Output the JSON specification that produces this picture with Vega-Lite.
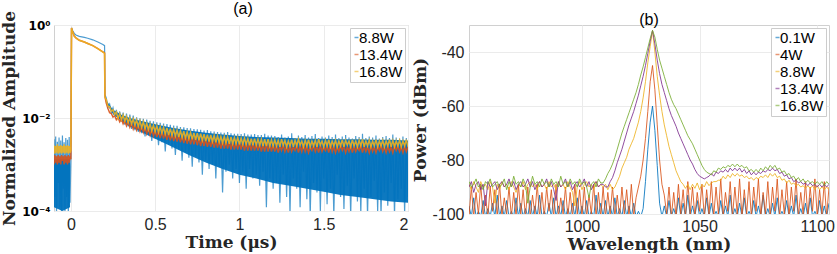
{
"$schema":"https://vega.github.io/schema/vega-lite/v6.json",
"background":"white",
"padding":{"left":0,"top":0,"right":0,"bottom":0},
"spacing":2,
"config":{
 "view":{"stroke":"#d0d0d0","strokeWidth":1},
 "axis":{"grid":true,"gridColor":"#ebebeb","domain":false,"ticks":false,"labelFont":"Liberation Sans","labelFontSize":16,"labelColor":"#262626","titleFont":"DejaVu Serif","titleFontSize":17,"titleFontWeight":"bold","titleColor":"#262626"},
 "title":{"font":"Liberation Sans","fontSize":16,"fontWeight":"normal","color":"#000"},
 "legend":{"title":null,"orient":"top-right","offset":3,"symbolType":"stroke","symbolSize":16,"symbolStrokeWidth":1.5,"symbolOpacity":0.6,"symbolOffset":-3,"labelFontSize":15,"labelFont":"Liberation Sans","labelColor":"#000","strokeColor":"#cccccc","fillColor":"white","padding":2,"rowPadding":1,"labelOffset":-5}
},
"resolve":{"scale":{"color":"independent"},"legend":{"color":"independent"}},
"hconcat":[
{
 "width":354,"height":186,
 "title":{"text":"(a)","offset":-6,"dx":12},
 "data":{"values":[
{"t":-0.1,"a":0.0035,"b":0.0010,"c":0.0026,"u":0.0013,"l":0.00012,"g":1},
{"t":-0.095,"a":0.0002,"b":0.0016,"c":0.0017},
{"t":-0.09,"a":0.0040,"b":0.0011,"c":0.0025},
{"t":-0.085,"a":0.00008,"b":0.0015,"c":0.0018},
{"t":-0.08,"a":0.0031,"b":0.0010,"c":0.0027},
{"t":-0.075,"a":0.0004,"b":0.0016,"c":0.0017},
{"t":-0.07,"a":0.0038,"b":0.0011,"c":0.0025},
{"t":-0.065,"a":0.00012,"b":0.0015,"c":0.0018},
{"t":-0.06,"a":0.0033,"b":0.0010,"c":0.0026},
{"t":-0.055,"a":0.00008,"b":0.0016,"c":0.0017},
{"t":-0.05,"a":0.0042,"b":0.0012,"c":0.0025,"u":0.0013,"l":0.0001,"g":1},
{"t":-0.045,"a":0.0003,"b":0.0015,"c":0.0018},
{"t":-0.04,"a":0.0030,"b":0.0010,"c":0.0027},
{"t":-0.035,"a":0.00009,"b":0.0016,"c":0.0017},
{"t":-0.03,"a":0.0037,"b":0.0011,"c":0.0025},
{"t":-0.025,"a":0.0002,"b":0.0015,"c":0.0018},
{"t":-0.02,"a":0.0034,"b":0.0010,"c":0.0026},
{"t":-0.015,"a":0.00008,"b":0.0016,"c":0.0017},
{"t":-0.01,"a":0.0039,"b":0.0011,"c":0.0025},
{"t":-0.005,"a":0.00015,"b":0.0015,"c":0.0018,"u":0.0013,"l":0.00012,"g":1},
{"t":0,"a":0.0012,"b":0.0013,"c":0.002},
{"t":0.004,"a":0.86,"b":0.86,"c":0.86},
{"t":0.01,"a":0.76,"b":0.72,"c":0.72},
{"t":0.02,"a":0.66,"b":0.58,"c":0.58},
{"t":0.03,"a":0.61,"b":0.53,"c":0.53},
{"t":0.05,"a":0.57,"b":0.47,"c":0.47},
{"t":0.08,"a":0.54,"b":0.43,"c":0.43},
{"t":0.1,"a":0.52,"b":0.40,"c":0.40},
{"t":0.13,"a":0.48,"b":0.36,"c":0.36},
{"t":0.16,"a":0.43,"b":0.31,"c":0.31},
{"t":0.19,"a":0.38,"b":0.265,"c":0.26},
{"t":0.2,"a":0.36,"b":0.25,"c":0.245},
{"t":0.202,"a":0.032,"b":0.029,"c":0.028},
{"t":0.21,"a":0.027,"b":0.021,"c":0.025,"u":0.024,"l":0.021,"g":2},
{"t":0.22,"a":0.017,"b":0.016,"c":0.018},
{"t":0.23,"a":0.020,"b":0.013,"c":0.0175},
{"t":0.24,"a":0.013,"b":0.0125,"c":0.014},
{"t":0.25,"a":0.0165,"b":0.0105,"c":0.0150,"u":0.015,"l":0.012,"g":2},
{"t":0.26,"a":0.0108,"b":0.0112,"c":0.0118},
{"t":0.27,"a":0.0150,"b":0.0092,"c":0.0135},
{"t":0.28,"a":0.0094,"b":0.0103,"c":0.0098},
{"t":0.29,"a":0.0138,"b":0.0083,"c":0.0124},
{"t":0.30,"a":0.0083,"b":0.0095,"c":0.0092,"u":0.0118,"l":0.0086,"g":2},
{"t":0.31,"a":0.0131,"b":0.0075,"c":0.0116},
{"t":0.32,"a":0.0072,"b":0.0089,"c":0.0085},
{"t":0.33,"a":0.0125,"b":0.0068,"c":0.0108},
{"t":0.34,"a":0.0066,"b":0.0083,"c":0.0079},
{"t":0.35,"a":0.0119,"b":0.0063,"c":0.0101,"u":0.0100,"l":0.0066,"g":2},
{"t":0.36,"a":0.0058,"b":0.0078,"c":0.0074},
{"t":0.37,"a":0.0113,"b":0.0058,"c":0.0096},
{"t":0.38,"a":0.0055,"b":0.0073,"c":0.0070},
{"t":0.39,"a":0.0104,"b":0.0055,"c":0.0091},
{"t":0.40,"a":0.0050,"b":0.0069,"c":0.0066,"u":0.0089,"l":0.0054,"g":2},
{"t":0.41,"a":0.0099,"b":0.0052,"c":0.0087},
{"t":0.42,"a":0.0047,"b":0.0066,"c":0.0062},
{"t":0.43,"a":0.0096,"b":0.0049,"c":0.0083},
{"t":0.44,"a":0.0040,"b":0.0063,"c":0.0059},
{"t":0.45,"a":0.0092,"b":0.0046,"c":0.0077},
{"t":0.46,"a":0.0042,"b":0.0060,"c":0.0056},
{"t":0.47,"a":0.0087,"b":0.0043,"c":0.0074},
{"t":0.48,"a":0.0032,"b":0.0057,"c":0.0053},
{"t":0.49,"a":0.0085,"b":0.0041,"c":0.0070},
{"t":0.50,"a":0.0036,"b":0.0055,"c":0.0051,"u":0.0073,"l":0.0036,"g":2},
{"t":0.51,"a":0.0081,"b":0.0039,"c":0.0068},
{"t":0.52,"a":0.0026,"b":0.0053,"c":0.0049},
{"t":0.53,"a":0.0079,"b":0.0037,"c":0.0065},
{"t":0.54,"a":0.0030,"b":0.0051,"c":0.0047},
{"t":0.55,"a":0.0076,"b":0.0036,"c":0.0063},
{"t":0.56,"a":0.0019,"b":0.0049,"c":0.0045},
{"t":0.57,"a":0.0074,"b":0.0034,"c":0.0061},
{"t":0.58,"a":0.0027,"b":0.0047,"c":0.0043},
{"t":0.59,"a":0.0071,"b":0.0033,"c":0.0059},
{"t":0.60,"a":0.0022,"b":0.0046,"c":0.0042,"u":0.0062,"l":0.0024,"g":2},
{"t":0.61,"a":0.0069,"b":0.0032,"c":0.0057},
{"t":0.62,"a":0.0016,"b":0.0044,"c":0.0041},
{"t":0.63,"a":0.0068,"b":0.0031,"c":0.0055},
{"t":0.64,"a":0.0021,"b":0.0043,"c":0.0039},
{"t":0.65,"a":0.0064,"b":0.0030,"c":0.0053},
{"t":0.66,"a":0.0012,"b":0.0042,"c":0.0038},
{"t":0.67,"a":0.0063,"b":0.0029,"c":0.0052},
{"t":0.68,"a":0.0018,"b":0.0041,"c":0.0037},
{"t":0.69,"a":0.0061,"b":0.0028,"c":0.0050},
{"t":0.70,"a":0.0014,"b":0.0040,"c":0.0036,"u":0.0054,"l":0.0016,"g":2},
{"t":0.71,"a":0.0060,"b":0.0027,"c":0.0049},
{"t":0.72,"a":0.0009,"b":0.0039,"c":0.0035},
{"t":0.73,"a":0.0058,"b":0.0027,"c":0.0048},
{"t":0.74,"a":0.0015,"b":0.0038,"c":0.0034},
{"t":0.75,"a":0.0057,"b":0.0026,"c":0.0047},
{"t":0.76,"a":0.0011,"b":0.0037,"c":0.0033},
{"t":0.77,"a":0.0056,"b":0.0025,"c":0.0046},
{"t":0.78,"a":0.0006,"b":0.0036,"c":0.0033},
{"t":0.79,"a":0.0054,"b":0.0025,"c":0.0045},
{"t":0.80,"a":0.0012,"b":0.0035,"c":0.0032,"u":0.0048,"l":0.0011,"g":2},
{"t":0.81,"a":0.0055,"b":0.0024,"c":0.0044},
{"t":0.82,"a":0.0008,"b":0.0034,"c":0.0031},
{"t":0.83,"a":0.0052,"b":0.0024,"c":0.0043},
{"t":0.84,"a":0.0010,"b":0.0034,"c":0.0031},
{"t":0.85,"a":0.0051,"b":0.0023,"c":0.0042},
{"t":0.86,"a":0.0005,"b":0.0033,"c":0.0030},
{"t":0.87,"a":0.0050,"b":0.0023,"c":0.0041},
{"t":0.88,"a":0.0009,"b":0.0033,"c":0.0030},
{"t":0.89,"a":0.0049,"b":0.0022,"c":0.0040},
{"t":0.90,"a":0.00025,"b":0.0032,"c":0.0029,"u":0.0044,"l":0.0008,"g":2},
{"t":0.91,"a":0.0048,"b":0.0022,"c":0.0040},
{"t":0.92,"a":0.0007,"b":0.0032,"c":0.0029},
{"t":0.93,"a":0.0050,"b":0.0022,"c":0.0039},
{"t":0.94,"a":0.0010,"b":0.0031,"c":0.0028},
{"t":0.95,"a":0.0047,"b":0.0021,"c":0.0039},
{"t":0.96,"a":0.0005,"b":0.0031,"c":0.0028},
{"t":0.97,"a":0.0046,"b":0.0021,"c":0.0038},
{"t":0.98,"a":0.0008,"b":0.0030,"c":0.0028},
{"t":0.99,"a":0.0046,"b":0.0021,"c":0.0038},
{"t":1.00,"a":0.0004,"b":0.0030,"c":0.0027,"u":0.0041,"l":0.0006,"g":2},
{"t":1.01,"a":0.0045,"b":0.0021,"c":0.0037},
{"t":1.02,"a":0.0007,"b":0.0030,"c":0.0027},
{"t":1.03,"a":0.0047,"b":0.0020,"c":0.0037},
{"t":1.04,"a":0.0003,"b":0.0029,"c":0.0027},
{"t":1.05,"a":0.0044,"b":0.0020,"c":0.0036},
{"t":1.06,"a":0.0008,"b":0.0029,"c":0.0026},
{"t":1.07,"a":0.0044,"b":0.0020,"c":0.0036},
{"t":1.08,"a":0.0005,"b":0.0029,"c":0.0026},
{"t":1.09,"a":0.0045,"b":0.0020,"c":0.0036},
{"t":1.10,"a":0.0006,"b":0.0028,"c":0.0026,"u":0.0039,"l":0.0005,"g":2},
{"t":1.11,"a":0.0043,"b":0.0020,"c":0.0035},
{"t":1.12,"a":0.00035,"b":0.0028,"c":0.0026},
{"t":1.13,"a":0.0043,"b":0.0019,"c":0.0035},
{"t":1.14,"a":0.0007,"b":0.0028,"c":0.0025},
{"t":1.15,"a":0.0046,"b":0.0019,"c":0.0035},
{"t":1.16,"a":0.00012,"b":0.0028,"c":0.0025},
{"t":1.17,"a":0.0042,"b":0.0019,"c":0.0035},
{"t":1.18,"a":0.0005,"b":0.0028,"c":0.0025},
{"t":1.19,"a":0.0042,"b":0.0019,"c":0.0034},
{"t":1.20,"a":0.0003,"b":0.0027,"c":0.0025,"u":0.0038,"l":0.0004,"g":2},
{"t":1.21,"a":0.0041,"b":0.0019,"c":0.0034},
{"t":1.22,"a":0.0004,"b":0.0026,"c":0.0025},
{"t":1.23,"a":0.0039,"b":0.0018,"c":0.0033},
{"t":1.24,"a":0.00015,"b":0.0025,"c":0.0024},
{"t":1.25,"a":0.0044,"b":0.0020,"c":0.0035},
{"t":1.26,"a":0.0006,"b":0.0027,"c":0.0026},
{"t":1.27,"a":0.0038,"b":0.0019,"c":0.0033},
{"t":1.28,"a":0.0002,"b":0.0025,"c":0.0024},
{"t":1.29,"a":0.0040,"b":0.0018,"c":0.0032},
{"t":1.30,"a":0.00009,"b":0.0026,"c":0.0025,"u":0.0037,"l":0.00035,"g":2},
{"t":1.31,"a":0.0047,"b":0.0019,"c":0.0034},
{"t":1.32,"a":0.0005,"b":0.0024,"c":0.0024},
{"t":1.33,"a":0.0037,"b":0.0020,"c":0.0033},
{"t":1.34,"a":0.0003,"b":0.0026,"c":0.0025},
{"t":1.35,"a":0.0042,"b":0.0018,"c":0.0035},
{"t":1.36,"a":0.00012,"b":0.0025,"c":0.0026},
{"t":1.37,"a":0.0039,"b":0.0019,"c":0.0032},
{"t":1.38,"a":0.0007,"b":0.0027,"c":0.0024},
{"t":1.39,"a":0.0043,"b":0.0019,"c":0.0033},
{"t":1.40,"a":0.00018,"b":0.0025,"c":0.0025,"u":0.0036,"l":0.0003,"g":2},
{"t":1.41,"a":0.0038,"b":0.0018,"c":0.0034},
{"t":1.42,"a":0.00008,"b":0.0024,"c":0.0024},
{"t":1.43,"a":0.0041,"b":0.0020,"c":0.0032},
{"t":1.44,"a":0.0004,"b":0.0026,"c":0.0025},
{"t":1.45,"a":0.0045,"b":0.0019,"c":0.0033},
{"t":1.46,"a":0.00025,"b":0.0025,"c":0.0024},
{"t":1.47,"a":0.0037,"b":0.0018,"c":0.0035},
{"t":1.48,"a":0.0001,"b":0.0026,"c":0.0026},
{"t":1.49,"a":0.0040,"b":0.0019,"c":0.0032},
{"t":1.50,"a":0.0005,"b":0.0024,"c":0.0024,"u":0.0036,"l":0.00026,"g":2},
{"t":1.51,"a":0.0038,"b":0.0020,"c":0.0033},
{"t":1.52,"a":0.00014,"b":0.0025,"c":0.0025},
{"t":1.53,"a":0.0042,"b":0.0018,"c":0.0034},
{"t":1.54,"a":0.0003,"b":0.0027,"c":0.0024},
{"t":1.55,"a":0.0039,"b":0.0019,"c":0.0032},
{"t":1.56,"a":0.00008,"b":0.0025,"c":0.0025},
{"t":1.57,"a":0.0044,"b":0.0018,"c":0.0033},
{"t":1.58,"a":0.0006,"b":0.0024,"c":0.0024},
{"t":1.59,"a":0.0037,"b":0.0019,"c":0.0032},
{"t":1.60,"a":0.0002,"b":0.0026,"c":0.0025,"u":0.0035,"l":0.00022,"g":2},
{"t":1.61,"a":0.0040,"b":0.0020,"c":0.0034},
{"t":1.62,"a":0.00011,"b":0.0025,"c":0.0024},
{"t":1.63,"a":0.0043,"b":0.0018,"c":0.0033},
{"t":1.64,"a":0.00035,"b":0.0024,"c":0.0026},
{"t":1.65,"a":0.0038,"b":0.0019,"c":0.0032},
{"t":1.66,"a":0.00008,"b":0.0026,"c":0.0024},
{"t":1.67,"a":0.0036,"b":0.0018,"c":0.0034},
{"t":1.68,"a":0.0005,"b":0.0025,"c":0.0025},
{"t":1.69,"a":0.0041,"b":0.0019,"c":0.0032},
{"t":1.70,"a":0.00016,"b":0.0024,"c":0.0024,"u":0.0035,"l":0.0002,"g":2},
{"t":1.71,"a":0.0039,"b":0.0020,"c":0.0033},
{"t":1.72,"a":0.00009,"b":0.0026,"c":0.0025},
{"t":1.73,"a":0.0046,"b":0.0018,"c":0.0035},
{"t":1.74,"a":0.0003,"b":0.0025,"c":0.0024},
{"t":1.75,"a":0.0037,"b":0.0019,"c":0.0032},
{"t":1.76,"a":0.00008,"b":0.0024,"c":0.0025},
{"t":1.77,"a":0.0040,"b":0.0018,"c":0.0033},
{"t":1.78,"a":0.0002,"b":0.0026,"c":0.0024},
{"t":1.79,"a":0.0038,"b":0.0019,"c":0.0032},
{"t":1.80,"a":0.00045,"b":0.0024,"c":0.0025,"u":0.0034,"l":0.00018,"g":2},
{"t":1.81,"a":0.0042,"b":0.0018,"c":0.0034},
{"t":1.82,"a":0.0001,"b":0.0025,"c":0.0024},
{"t":1.83,"a":0.0036,"b":0.0020,"c":0.0032},
{"t":1.84,"a":0.00008,"b":0.0026,"c":0.0025},
{"t":1.85,"a":0.0039,"b":0.0019,"c":0.0033},
{"t":1.86,"a":0.00025,"b":0.0024,"c":0.0024},
{"t":1.87,"a":0.0041,"b":0.0018,"c":0.0032},
{"t":1.88,"a":0.00013,"b":0.0025,"c":0.0025},
{"t":1.89,"a":0.0037,"b":0.0019,"c":0.0034},
{"t":1.90,"a":0.0004,"b":0.0024,"c":0.0024,"u":0.0034,"l":0.00016,"g":2},
{"t":1.91,"a":0.0044,"b":0.0018,"c":0.0033},
{"t":1.92,"a":0.00008,"b":0.0026,"c":0.0024},
{"t":1.93,"a":0.0038,"b":0.0020,"c":0.0032},
{"t":1.94,"a":0.00018,"b":0.0025,"c":0.0025},
{"t":1.95,"a":0.0036,"b":0.0019,"c":0.0033},
{"t":1.96,"a":0.0003,"b":0.0024,"c":0.0024},
{"t":1.97,"a":0.0040,"b":0.0018,"c":0.0032},
{"t":1.98,"a":0.00009,"b":0.0025,"c":0.0025},
{"t":1.99,"a":0.0037,"b":0.0019,"c":0.0034},
{"t":2.00,"a":0.0002,"b":0.0024,"c":0.0024,"u":0.0033,"l":0.00015,"g":2}
 ]},
 "encoding":{"x":{"field":"t","type":"quantitative","scale":{"domain":[-0.1,2],"nice":false,"zero":false},"axis":{"values":[0,0.5,1,1.5,2],"format":"~g","title":"Time (μs)","labelPadding":5,"titlePadding":2}}},
 "layer":[
  {"mark":{"type":"area","color":"#0072BD","opacity":0.95,"clip":true,"invalid":"filter"},
   "encoding":{
    "y":{"field":"u","type":"quantitative","scale":{"type":"log","domain":[0.0001,1],"nice":false},"axis":{"values":[0.0001,0.01,1],"title":"Normalized Amplitude","labelExpr":"datum.value > 0.5 ? '10⁰' : datum.value > 0.005 ? '10⁻²' : '10⁻⁴'","labelFont":"DejaVu Sans","labelFontSize":12,"labelFontWeight":"bold","labelColor":"#000","labelPadding":4,"titlePadding":3}},
    "y2":{"field":"l"},
    "detail":{"field":"g","type":"nominal"}}},
  {"mark":{"type":"line","strokeWidth":1.2,"opacity":0.7,"clip":true},
   "encoding":{
    "y":{"field":"a","type":"quantitative","scale":{"type":"log","domain":[0.0001,1],"nice":false},"axis":{"values":[0.0001,0.01,1],"title":"Normalized Amplitude","labelExpr":"datum.value > 0.5 ? '10⁰' : datum.value > 0.005 ? '10⁻²' : '10⁻⁴'","labelFont":"DejaVu Sans","labelFontSize":12,"labelFontWeight":"bold","labelColor":"#000","labelPadding":4,"titlePadding":3}},
    "color":{"datum":"8.8W","type":"nominal","scale":{"domain":["8.8W","13.4W","16.8W"],"range":["#0072BD","#D95319","#EDB120"]}}}},
  {"mark":{"type":"line","strokeWidth":1.5,"opacity":0.9,"clip":true},
   "encoding":{
    "y":{"field":"b","type":"quantitative","scale":{"type":"log","domain":[0.0001,1],"nice":false},"axis":{"values":[0.0001,0.01,1],"title":"Normalized Amplitude","labelExpr":"datum.value > 0.5 ? '10⁰' : datum.value > 0.005 ? '10⁻²' : '10⁻⁴'","labelFont":"DejaVu Sans","labelFontSize":12,"labelFontWeight":"bold","labelColor":"#000","labelPadding":4,"titlePadding":3}},
    "color":{"datum":"13.4W","type":"nominal"}}},
  {"mark":{"type":"line","strokeWidth":1.5,"opacity":0.9,"clip":true},
   "encoding":{
    "y":{"field":"c","type":"quantitative","scale":{"type":"log","domain":[0.0001,1],"nice":false},"axis":{"values":[0.0001,0.01,1],"title":"Normalized Amplitude","labelExpr":"datum.value > 0.5 ? '10⁰' : datum.value > 0.005 ? '10⁻²' : '10⁻⁴'","labelFont":"DejaVu Sans","labelFontSize":12,"labelFontWeight":"bold","labelColor":"#000","labelPadding":4,"titlePadding":3}},
    "color":{"datum":"16.8W","type":"nominal"}}}
 ]
},
{
 "width":360,"height":189,
 "title":{"text":"(b)","offset":-3},
 "data":{"values":[
{"w":952,"a":-97,"b":-101,"c":-89,"d":-90,"e":-88},
{"w":953,"a":-101,"b":-90,"c":-91,"d":-88,"e":-90},
{"w":954,"a":-94,"b":-101,"c":-88,"d":-92,"e":-89},
{"w":955,"a":-101,"b":-92,"c":-90,"d":-89,"e":-87},
{"w":956,"a":-99,"b":-100,"c":-92,"d":-88,"e":-90},
{"w":957,"a":-101,"b":-89,"c":-88,"d":-91,"e":-89},
{"w":958,"a":-95,"b":-101,"c":-90,"d":-89,"e":-91},
{"w":959,"a":-101,"b":-93,"c":-89,"d":-97,"e":-88},
{"w":960,"a":-98,"b":-101,"c":-91,"d":-88,"e":-89},
{"w":961,"a":-101,"b":-90,"c":-88,"d":-90,"e":-87},
{"w":962,"a":-96,"b":-99,"c":-90,"d":-89,"e":-90},
{"w":963,"a":-101,"b":-91,"c":-96,"d":-88,"e":-89},
{"w":964,"a":-93,"b":-101,"c":-89,"d":-91,"e":-88},
{"w":965,"a":-101,"b":-89,"c":-91,"d":-89,"e":-90},
{"w":966,"a":-97,"b":-101,"c":-88,"d":-88,"e":-89},
{"w":967,"a":-101,"b":-94,"c":-90,"d":-90,"e":-87},
{"w":968,"a":-95,"b":-100,"c":-89,"d":-89,"e":-91},
{"w":969,"a":-101,"b":-90,"c":-91,"d":-87,"e":-88},
{"w":970,"a":-99,"b":-101,"c":-88,"d":-90,"e":-90},
{"w":971,"a":-101,"b":-92,"c":-90,"d":-88,"e":-86},
{"w":972,"a":-94,"b":-101,"c":-92,"d":-91,"e":-89},
{"w":973,"a":-101,"b":-89,"c":-89,"d":-89,"e":-88},
{"w":974,"a":-96,"b":-100,"c":-90,"d":-88,"e":-90},
{"w":975,"a":-101,"b":-91,"c":-88,"d":-90,"e":-87},
{"w":976,"a":-98,"b":-101,"c":-91,"d":-89,"e":-89},
{"w":977,"a":-101,"b":-90,"c":-89,"d":-87,"e":-96},
{"w":978,"a":-95,"b":-101,"c":-88,"d":-90,"e":-90},
{"w":979,"a":-101,"b":-93,"c":-90,"d":-88,"e":-86},
{"w":980,"a":-97,"b":-100,"c":-89,"d":-91,"e":-89},
{"w":981,"a":-101,"b":-89,"c":-91,"d":-89,"e":-88},
{"w":982,"a":-93,"b":-101,"c":-88,"d":-88,"e":-90},
{"w":983,"a":-101,"b":-92,"c":-90,"d":-90,"e":-87},
{"w":984,"a":-99,"b":-101,"c":-89,"d":-89,"e":-89},
{"w":985,"a":-101,"b":-90,"c":-91,"d":-87,"e":-88},
{"w":986,"a":-96,"b":-99,"c":-88,"d":-90,"e":-90},
{"w":987,"a":-101,"b":-91,"c":-90,"d":-88,"e":-87},
{"w":988,"a":-94,"b":-101,"c":-89,"d":-91,"e":-89},
{"w":989,"a":-101,"b":-89,"c":-91,"d":-95,"e":-88},
{"w":990,"a":-97,"b":-101,"c":-88,"d":-88,"e":-90},
{"w":991,"a":-101,"b":-94,"c":-90,"d":-90,"e":-86},
{"w":992,"a":-95,"b":-100,"c":-89,"d":-89,"e":-89},
{"w":993,"a":-101,"b":-90,"c":-91,"d":-87,"e":-88},
{"w":994,"a":-98,"b":-101,"c":-88,"d":-90,"e":-90},
{"w":995,"a":-101,"b":-92,"c":-90,"d":-88,"e":-87},
{"w":996,"a":-96,"b":-101,"c":-92,"d":-91,"e":-89},
{"w":997,"a":-101,"b":-89,"c":-97,"d":-89,"e":-88},
{"w":998,"a":-94,"b":-100,"c":-90,"d":-88,"e":-90},
{"w":999,"a":-101,"b":-91,"c":-88,"d":-90,"e":-87},
{"w":1000,"a":-97,"b":-101,"c":-91,"d":-89,"e":-89},
{"w":1001,"a":-101,"b":-90,"c":-89,"d":-87,"e":-88},
{"w":1002,"a":-95,"b":-101,"c":-88,"d":-90,"e":-90},
{"w":1003,"a":-101,"b":-93,"c":-90,"d":-88,"e":-94},
{"w":1004,"a":-99,"b":-100,"c":-89,"d":-91,"e":-89},
{"w":1005,"a":-101,"b":-89,"c":-91,"d":-89,"e":-88},
{"w":1006,"a":-93,"b":-101,"c":-88,"d":-88,"e":-90},
{"w":1007,"a":-101,"b":-92,"c":-90,"d":-90,"e":-87},
{"w":1008,"a":-96,"b":-101,"c":-89,"d":-89,"e":-88.5},
{"w":1009,"a":-101,"b":-90,"c":-90,"d":-89,"e":-88.5},
{"w":1010,"a":-95,"b":-101,"c":-89,"d":-90,"e":-87},
{"w":1011,"a":-101,"b":-92,"c":-91,"d":-90,"e":-85},
{"w":1012,"a":-97,"b":-100,"c":-89,"d":-88,"e":-83.5},
{"w":1013,"a":-101,"b":-90,"c":-91,"d":-86.5,"e":-81.5},
{"w":1014,"a":-94,"b":-101,"c":-90,"d":-84,"e":-79},
{"w":1015,"a":-101,"b":-93,"c":-88,"d":-81,"e":-76},
{"w":1016,"a":-98,"b":-101,"c":-86,"d":-78.5,"e":-73},
{"w":1017,"a":-101,"b":-90,"c":-83,"d":-76,"e":-70},
{"w":1018,"a":-95,"b":-100,"c":-81,"d":-73,"e":-67.5},
{"w":1019,"a":-101,"b":-91,"c":-79,"d":-70,"e":-65},
{"w":1020,"a":-97,"b":-101,"c":-76,"d":-67,"e":-62.5},
{"w":1021,"a":-101,"b":-89,"c":-74,"d":-64.5,"e":-60},
{"w":1022,"a":-96,"b":-101,"c":-72,"d":-62,"e":-57.5},
{"w":1023,"a":-101,"b":-94,"c":-69,"d":-59,"e":-55},
{"w":1024,"a":-99,"b":-90,"c":-66,"d":-56,"e":-52},
{"w":1025,"a":-101,"b":-86,"c":-62,"d":-52.5,"e":-48.5},
{"w":1026,"a":-98,"b":-80,"c":-57,"d":-49,"e":-45.5},
{"w":1027,"a":-88,"b":-72,"c":-51,"d":-45,"e":-42},
{"w":1028,"a":-76,"b":-62,"c":-44,"d":-40.5,"e":-38.5},
{"w":1029,"a":-66,"b":-51,"c":-38,"d":-36,"e":-35},
{"w":1030,"a":-60,"b":-45,"c":-32,"d":-32,"e":-32},
{"w":1031,"a":-69,"b":-54,"c":-40,"d":-37,"e":-34.5},
{"w":1032,"a":-82,"b":-67,"c":-49,"d":-43,"e":-39},
{"w":1033,"a":-96,"b":-80,"c":-56,"d":-48,"e":-43},
{"w":1034,"a":-101,"b":-89,"c":-62,"d":-52,"e":-46},
{"w":1035,"a":-97,"b":-93,"c":-67,"d":-55,"e":-49},
{"w":1036,"a":-101,"b":-100,"c":-71,"d":-58,"e":-52},
{"w":1037,"a":-95,"b":-90,"c":-75,"d":-61,"e":-55},
{"w":1038,"a":-101,"b":-101,"c":-78,"d":-63.5,"e":-57.5},
{"w":1039,"a":-98,"b":-92,"c":-81,"d":-65.5,"e":-59.5},
{"w":1040,"a":-101,"b":-101,"c":-84,"d":-67.5,"e":-61},
{"w":1041,"a":-94,"b":-89,"c":-86,"d":-70,"e":-63},
{"w":1042,"a":-101,"b":-100,"c":-88,"d":-72,"e":-65},
{"w":1043,"a":-96,"b":-91,"c":-89,"d":-74,"e":-67},
{"w":1044,"a":-101,"b":-101,"c":-90.5,"d":-76,"e":-69},
{"w":1045,"a":-93,"b":-88,"c":-89,"d":-78,"e":-71},
{"w":1046,"a":-101,"b":-100,"c":-91,"d":-80,"e":-72.5},
{"w":1047,"a":-97,"b":-90,"c":-89,"d":-81.5,"e":-74},
{"w":1048,"a":-101,"b":-101,"c":-90.5,"d":-83.5,"e":-76},
{"w":1049,"a":-95,"b":-92,"c":-88.5,"d":-85,"e":-78},
{"w":1050,"a":-101,"b":-99,"c":-91,"d":-86,"e":-80},
{"w":1051,"a":-98,"b":-89,"c":-89,"d":-86.5,"e":-82},
{"w":1052,"a":-101,"b":-101,"c":-90,"d":-87,"e":-83.5},
{"w":1053,"a":-94,"b":-91,"c":-88,"d":-86.5,"e":-84.5},
{"w":1054,"a":-101,"b":-100,"c":-89.5,"d":-86,"e":-85},
{"w":1055,"a":-96,"b":-88,"c":-88.5,"d":-85,"e":-85.5},
{"w":1056,"a":-101,"b":-101,"c":-88,"d":-86,"e":-84},
{"w":1057,"a":-99,"b":-90,"c":-88,"d":-84.5,"e":-84.5},
{"w":1058,"a":-101,"b":-100,"c":-87.5,"d":-85,"e":-83},
{"w":1059,"a":-95,"b":-87,"c":-87.5,"d":-84,"e":-83.5},
{"w":1060,"a":-101,"b":-101,"c":-86,"d":-84.5,"e":-82.5},
{"w":1061,"a":-97,"b":-92,"c":-87,"d":-83.5,"e":-83},
{"w":1062,"a":-101,"b":-99,"c":-85.5,"d":-84.5,"e":-82},
{"w":1063,"a":-93,"b":-88,"c":-86.5,"d":-83,"e":-82.5},
{"w":1064,"a":-101,"b":-101,"c":-85,"d":-84,"e":-81.5},
{"w":1065,"a":-98,"b":-90,"c":-86,"d":-83,"e":-82.5},
{"w":1066,"a":-101,"b":-100,"c":-85,"d":-84,"e":-81.5},
{"w":1067,"a":-96,"b":-87,"c":-86,"d":-83,"e":-82.5},
{"w":1068,"a":-101,"b":-101,"c":-85.5,"d":-84.5,"e":-82},
{"w":1069,"a":-94,"b":-91,"c":-86.5,"d":-83.5,"e":-83},
{"w":1070,"a":-101,"b":-100,"c":-86,"d":-85,"e":-82.5},
{"w":1071,"a":-99,"b":-88,"c":-87,"d":-84,"e":-84},
{"w":1072,"a":-101,"b":-101,"c":-86.5,"d":-85.5,"e":-83.5},
{"w":1073,"a":-95,"b":-90,"c":-87.5,"d":-84.5,"e":-84.5},
{"w":1074,"a":-101,"b":-99,"c":-86.5,"d":-85.5,"e":-83.5},
{"w":1075,"a":-97,"b":-87,"c":-87,"d":-84.5,"e":-84.5},
{"w":1076,"a":-101,"b":-101,"c":-86,"d":-85,"e":-83},
{"w":1077,"a":-93,"b":-92,"c":-86.5,"d":-84,"e":-84},
{"w":1078,"a":-101,"b":-100,"c":-85.5,"d":-84.5,"e":-82.5},
{"w":1079,"a":-98,"b":-88,"c":-86.5,"d":-83.5,"e":-83.5},
{"w":1080,"a":-101,"b":-101,"c":-85,"d":-84,"e":-82},
{"w":1081,"a":-96,"b":-90,"c":-86,"d":-83,"e":-83},
{"w":1082,"a":-101,"b":-99,"c":-85,"d":-84,"e":-82},
{"w":1083,"a":-94,"b":-87,"c":-86.5,"d":-83.5,"e":-83.5},
{"w":1084,"a":-101,"b":-101,"c":-86,"d":-85,"e":-83},
{"w":1085,"a":-99,"b":-91,"c":-87.5,"d":-84.5,"e":-84.5},
{"w":1086,"a":-101,"b":-100,"c":-87,"d":-86,"e":-84},
{"w":1087,"a":-95,"b":-88,"c":-88.5,"d":-85.5,"e":-85.5},
{"w":1088,"a":-101,"b":-101,"c":-87.5,"d":-87,"e":-85},
{"w":1089,"a":-97,"b":-90,"c":-89,"d":-86.5,"e":-86.5},
{"w":1090,"a":-101,"b":-99,"c":-88.5,"d":-88,"e":-86},
{"w":1091,"a":-93,"b":-87,"c":-89.5,"d":-87.5,"e":-87.5},
{"w":1092,"a":-101,"b":-101,"c":-89,"d":-88.5,"e":-86.5},
{"w":1093,"a":-98,"b":-92,"c":-90,"d":-88,"e":-88},
{"w":1094,"a":-101,"b":-100,"c":-89.5,"d":-89,"e":-87},
{"w":1095,"a":-96,"b":-88,"c":-90.5,"d":-88.5,"e":-88.5},
{"w":1096,"a":-101,"b":-101,"c":-89.5,"d":-89.5,"e":-87.5},
{"w":1097,"a":-94,"b":-90,"c":-90.5,"d":-88.5,"e":-88.5},
{"w":1098,"a":-101,"b":-99,"c":-89.5,"d":-89.5,"e":-88},
{"w":1099,"a":-99,"b":-87,"c":-91,"d":-89,"e":-89},
{"w":1100,"a":-101,"b":-101,"c":-89.5,"d":-90,"e":-88},
{"w":1101,"a":-95,"b":-91,"c":-91,"d":-89,"e":-89},
{"w":1102,"a":-101,"b":-100,"c":-90,"d":-90,"e":-88},
{"w":1103,"a":-97,"b":-88,"c":-91,"d":-89,"e":-89.5},
{"w":1104,"a":-101,"b":-101,"c":-90,"d":-90,"e":-88},
{"w":1105,"a":-96,"b":-90,"c":-91,"d":-89,"e":-89}
 ]},
 "encoding":{"x":{"field":"w","type":"quantitative","scale":{"domain":[952,1105],"nice":false,"zero":false},"axis":{"values":[1000,1050,1100],"format":"d","title":"Wavelength (nm)","labelPadding":4,"titlePadding":2}}},
 "layer":[
  {"mark":{"type":"line","strokeWidth":1,"opacity":0.85,"clip":true},
   "encoding":{"y":{"field":"a","type":"quantitative","scale":{"domain":[-100,-30],"nice":false,"zero":false},"axis":{"values":[-100,-80,-60,-40],"labelExpr":"'' + datum.value","title":"Power (dBm)","labelPadding":5,"titlePadding":2}},
    "color":{"datum":"0.1W","type":"nominal","scale":{"domain":["0.1W","4W","8.8W","13.4W","16.8W"],"range":["#0072BD","#D95319","#EDB120","#7E2F8E","#77AC30"]}}}},
  {"mark":{"type":"line","strokeWidth":1,"opacity":0.85,"clip":true},
   "encoding":{"y":{"field":"b","type":"quantitative","scale":{"domain":[-100,-30],"nice":false,"zero":false},"axis":{"values":[-100,-80,-60,-40],"labelExpr":"'' + datum.value","title":"Power (dBm)","labelPadding":5,"titlePadding":2}},
    "color":{"datum":"4W","type":"nominal"}}},
  {"mark":{"type":"line","strokeWidth":1,"opacity":0.85,"clip":true},
   "encoding":{"y":{"field":"c","type":"quantitative","scale":{"domain":[-100,-30],"nice":false,"zero":false},"axis":{"values":[-100,-80,-60,-40],"labelExpr":"'' + datum.value","title":"Power (dBm)","labelPadding":5,"titlePadding":2}},
    "color":{"datum":"8.8W","type":"nominal"}}},
  {"mark":{"type":"line","strokeWidth":1,"opacity":0.85,"clip":true},
   "encoding":{"y":{"field":"d","type":"quantitative","scale":{"domain":[-100,-30],"nice":false,"zero":false},"axis":{"values":[-100,-80,-60,-40],"labelExpr":"'' + datum.value","title":"Power (dBm)","labelPadding":5,"titlePadding":2}},
    "color":{"datum":"13.4W","type":"nominal"}}},
  {"mark":{"type":"line","strokeWidth":1,"opacity":0.85,"clip":true},
   "encoding":{"y":{"field":"e","type":"quantitative","scale":{"domain":[-100,-30],"nice":false,"zero":false},"axis":{"values":[-100,-80,-60,-40],"labelExpr":"'' + datum.value","title":"Power (dBm)","labelPadding":5,"titlePadding":2}},
    "color":{"datum":"16.8W","type":"nominal"}}}
 ]
}
]
}
